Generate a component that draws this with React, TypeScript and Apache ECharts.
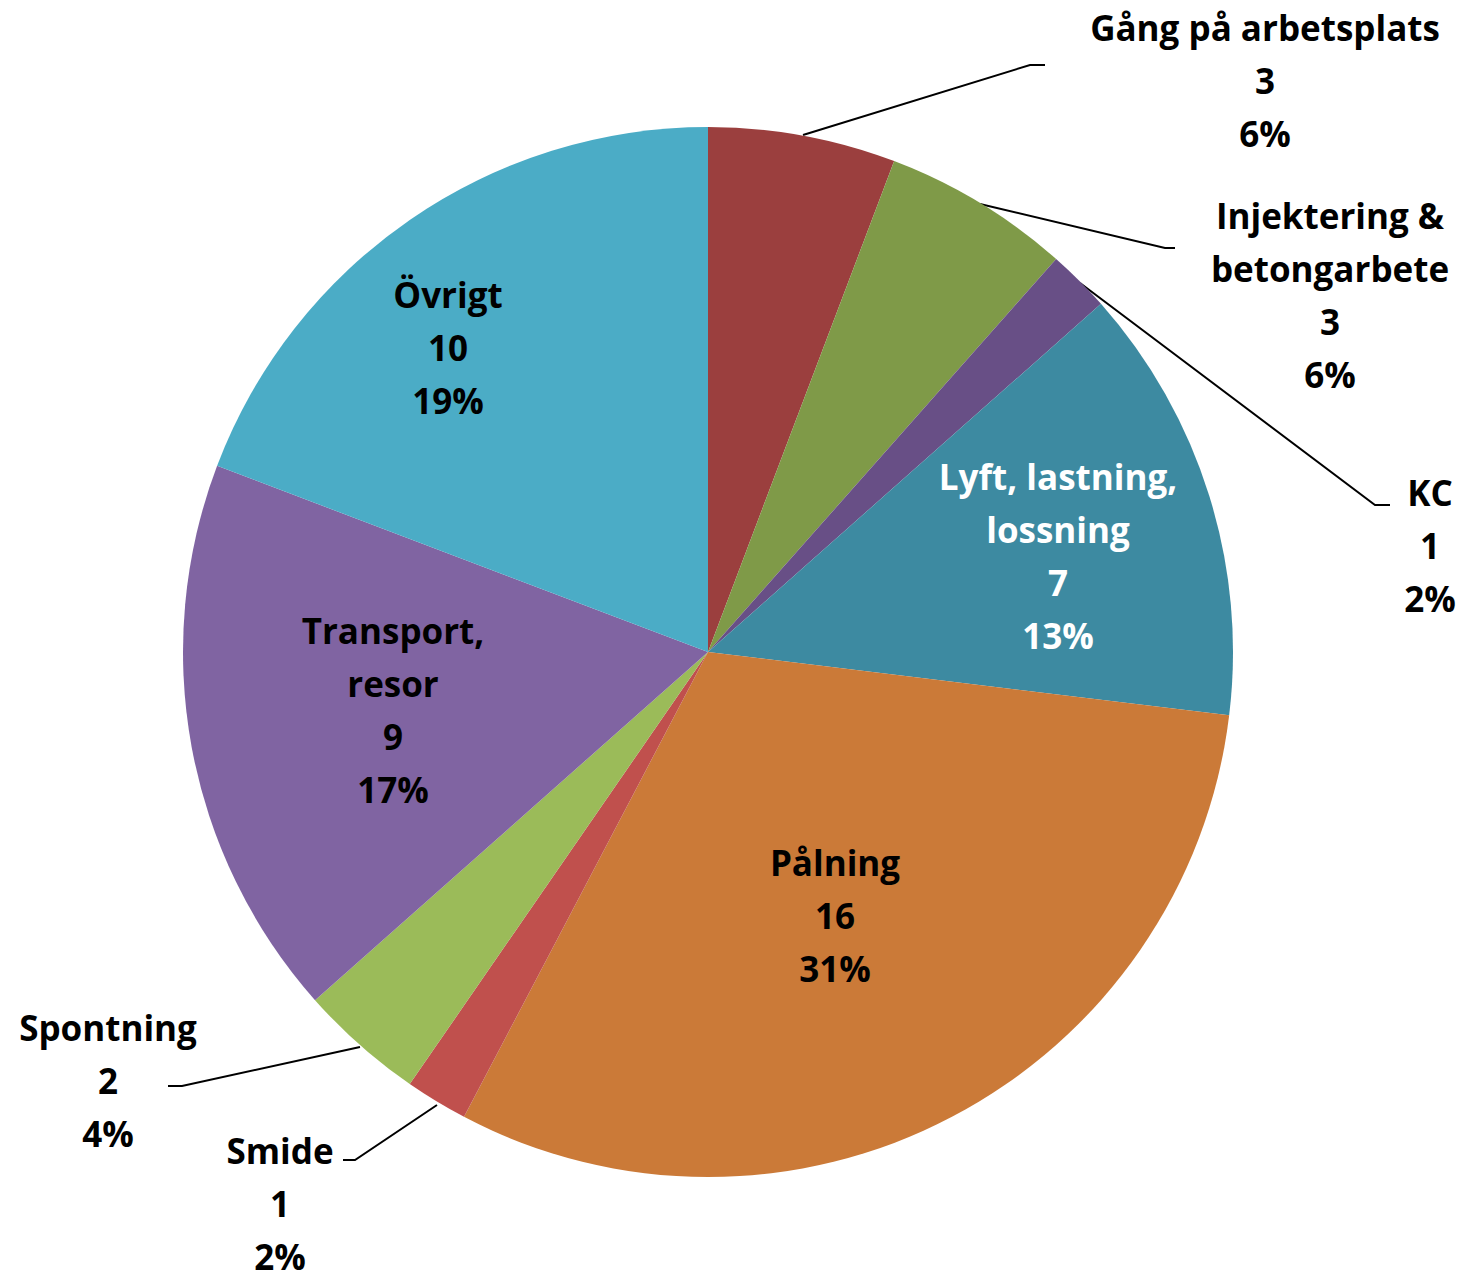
import React, { useEffect, useRef } from "react";
import * as echarts from "echarts";

const categories = [
  "Gång på arbetsplats",
  "Injektering &\nbetongarbete",
  "KC",
  "Lyft, lastning,\nlossning",
  "Pålning",
  "Smide",
  "Spontning",
  "Transport,\nresor",
  "Övrigt",
];
const values = [3, 3, 1, 7, 16, 1, 2, 9, 10];
const colors = ["#9B3F3E", "#7F9A48", "#684F86", "#3D8AA1", "#CB7A38", "#C0504D", "#9BBB59", "#8064A2", "#4BACC6"];
const insideLabel = [false, false, false, true, true, false, false, true, true];
const labelColors = ["#000", "#000", "#000", "#fff", "#000", "#000", "#000", "#000", "#000"];

// label layout (positions in px)
const labelPos: [number, number][] = [
  [1265, 80],
  [1330, 295],
  [1430, 545],
  [1058, 556],
  [835, 915],
  [280, 1203],
  [108, 1080],
  [393, 710],
  [448, 347],
];
const linePts: ([number, number][] | null)[] = [
  [[803, 135], [1030, 65], [1045, 65]],
  [[980, 204], [1165, 248], [1175, 248]],
  [[1080, 283], [1375, 505], [1390, 505]],
  null,
  null,
  [[437, 1105], [355, 1160], [343, 1160]],
  [[360, 1047], [182, 1086], [168, 1086]],
  null,
  null,
];

export default function App() {
  const ref = useRef<HTMLDivElement>(null);
  useEffect(() => {
    document.body.style.margin = "0";
    const chart = echarts.init(ref.current!, null, { renderer: "svg" });
    const total = values.reduce((a, b) => a + b, 0);
    chart.setOption({
      animation: false,
      backgroundColor: "#ffffff",
      series: [
        {
          type: "pie",
          center: [708, 652],
          radius: 525,
          startAngle: 90,
          clockwise: true,
          avoidLabelOverlap: false,
          label: {
            show: true,
            position: "outside",
            formatter: (p: any) => `${p.name}\n${p.value}\n${Math.round((p.value / total) * 100)}%`,
            fontFamily: "Open Sans",
            fontWeight: "bold",
            fontSize: 35,
            lineHeight: 53,
            align: "center",
          },
          labelLine: { show: true, lineStyle: { color: "#000", width: 2 } },
          labelLayout: (params: any) => {
            const i = params.dataIndex;
            const res: any = {
              x: labelPos[i][0],
              y: labelPos[i][1],
              align: "center",
              verticalAlign: "middle",
            };
            if (linePts[i]) res.labelLinePoints = linePts[i];
            return res;
          },
          data: categories.map((name, i) => ({
            name,
            value: values[i],
            itemStyle: { color: colors[i] },
            label: { color: labelColors[i] },
            labelLine: { show: !insideLabel[i] },
          })),
        },
      ],
    });
    return () => chart.dispose();
  }, []);
  return <div ref={ref} style={{ width: 1463, height: 1276 }} />;
}
